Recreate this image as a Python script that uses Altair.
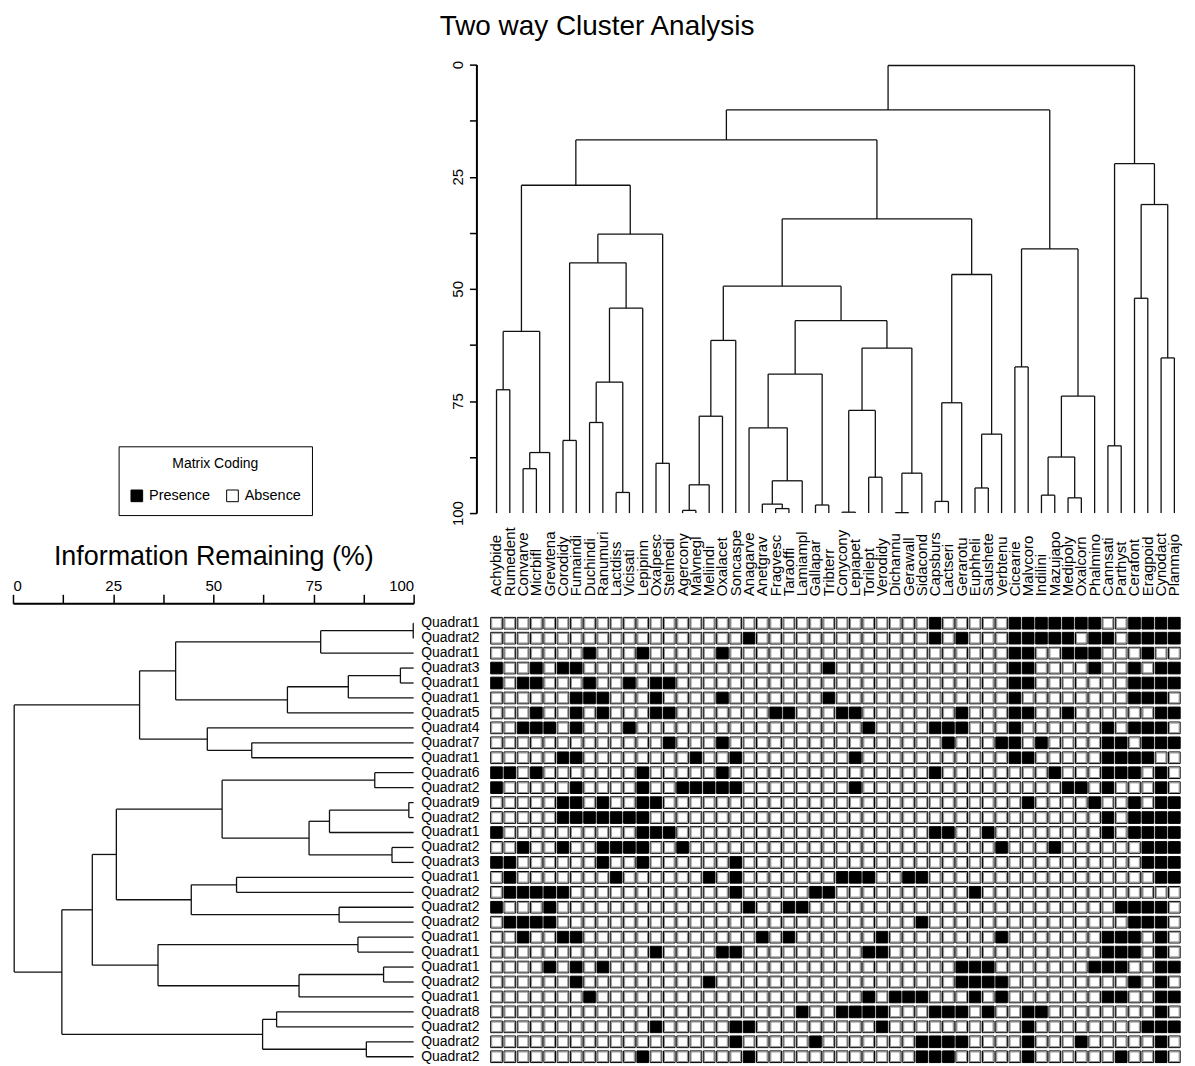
import altair as alt
import pandas as pd

FONT = "Liberation Sans"

species = ["Achybide", "Rumedent", "Convarve", "Micrbifl", "Grewtena", "Corodidy",
           "Fumaindi", "Duchindi", "Ranumuri", "Lactdiss", "Vicisati", "Lepipinn",
           "Oxalpesc", "Stelmedi", "Agercony", "Malvnegl", "Meliindi", "Oxalacet",
           "Soncaspe", "Anagarve", "Anetgrav", "Fragvesc", "Taraoffi", "Lamiampl",
           "Gallapar", "Tribterr", "Conycony", "Lepiapet", "Torilept", "Verodidy",
           "Dichannu", "Gerawall", "Sidacond", "Capsburs", "Lactseri", "Gerarotu",
           "Euphheli", "Saushete", "Verbtenu", "Cicearie", "Malvcoro", "Indilini",
           "Mazujapo", "Medipoly", "Oxalcorn", "Phalmino", "Cannsati", "Parthyst",
           "Cerafont", "Eragpoid", "Cynodact", "Planmajo"]

quadrats = ["Quadrat1", "Quadrat2", "Quadrat1", "Quadrat3", "Quadrat1", "Quadrat1",
            "Quadrat5", "Quadrat4", "Quadrat7", "Quadrat1", "Quadrat6", "Quadrat2",
            "Quadrat9", "Quadrat2", "Quadrat1", "Quadrat2", "Quadrat3", "Quadrat1",
            "Quadrat2", "Quadrat2", "Quadrat2", "Quadrat1", "Quadrat1", "Quadrat1",
            "Quadrat2", "Quadrat1", "Quadrat8", "Quadrat2", "Quadrat2", "Quadrat2"]

# species (column indices) present in each quadrat row
presence = [
    [33, 39, 40, 41, 42, 43, 44, 45, 48, 49, 50, 51],
    [19, 33, 35, 39, 40, 41, 42, 43, 45, 46, 48, 49, 50, 51],
    [7, 11, 17, 39, 40, 43, 44, 45, 49],
    [0, 3, 5, 6, 25, 39, 40, 45, 48, 50, 51],
    [0, 2, 3, 7, 10, 12, 13, 39, 40, 48, 49, 50, 51],
    [6, 7, 8, 12, 17, 25, 39, 48, 49, 50],
    [3, 6, 8, 12, 13, 21, 22, 26, 27, 35, 39, 40, 43, 50, 51],
    [2, 3, 4, 6, 10, 28, 33, 34, 35, 39, 46, 48, 49, 50],
    [13, 17, 34, 38, 39, 41, 46, 47, 49, 50, 51],
    [5, 6, 15, 18, 27, 39, 40, 46, 47, 48, 49],
    [0, 1, 3, 11, 17, 33, 42, 46, 47, 48, 50],
    [0, 6, 11, 14, 15, 16, 17, 18, 27, 43, 44, 46, 50],
    [5, 6, 8, 11, 12, 40, 45, 48, 50, 51],
    [5, 6, 7, 8, 9, 10, 11, 46, 48, 49, 50, 51],
    [0, 11, 12, 13, 33, 34, 37, 46, 48, 49, 50, 51],
    [2, 5, 8, 9, 10, 11, 14, 38, 42, 49, 50, 51],
    [0, 1, 8, 11, 18, 49, 50, 51],
    [1, 9, 16, 18, 26, 27, 28, 31, 32, 50, 51],
    [1, 2, 3, 4, 5, 18, 24, 25, 36],
    [0, 4, 19, 22, 23, 47, 48, 49, 50],
    [1, 2, 3, 4, 32, 48, 49, 50],
    [2, 5, 6, 20, 22, 29, 38, 46, 47, 48, 50],
    [12, 17, 18, 28, 29, 46, 47, 48, 50],
    [4, 6, 8, 35, 36, 37, 45, 46, 47, 50, 51],
    [6, 16, 35, 36, 37, 38, 48, 50],
    [7, 28, 30, 31, 32, 36, 38, 46, 47, 50, 51],
    [23, 26, 27, 28, 29, 33, 34, 35, 37, 40, 41, 50],
    [12, 18, 19, 29, 40, 49, 50, 51],
    [18, 24, 32, 33, 34, 35, 40, 44, 50],
    [11, 19, 32, 33, 34, 40, 47, 50],
]

# merges: (first leaf, last leaf of left group, last leaf of right group, information remaining %)
species_merges = [
    (0, 0, 1, 72.5), (2, 2, 3, 90.1), (2, 3, 4, 86.5), (0, 1, 4, 59.5),
    (5, 5, 6, 83.8), (7, 7, 8, 79.8), (9, 9, 10, 95.4), (7, 8, 10, 70.8),
    (7, 10, 11, 54.3), (5, 6, 11, 44.2), (12, 12, 13, 88.9), (5, 11, 13, 37.8),
    (0, 4, 13, 26.9), (14, 14, 15, 99.4), (14, 15, 16, 93.7), (14, 16, 17, 78.4),
    (14, 17, 18, 61.5), (21, 21, 22, 99.0), (20, 20, 22, 98.0), (20, 22, 23, 92.8),
    (19, 19, 23, 81.0), (24, 24, 25, 98.2), (19, 23, 25, 69.0), (26, 26, 27, 99.8),
    (28, 28, 29, 92.0), (26, 27, 29, 77.1), (30, 30, 31, 99.9), (30, 31, 32, 91.1),
    (26, 29, 32, 63.2), (19, 25, 32, 57.1), (14, 18, 32, 49.4), (33, 33, 34, 97.4),
    (33, 34, 35, 75.4), (36, 36, 37, 94.4), (36, 37, 38, 82.4), (33, 35, 38, 46.8),
    (14, 32, 38, 34.4), (0, 13, 38, 16.8), (39, 39, 40, 67.4), (41, 41, 42, 96.0),
    (43, 43, 44, 96.6), (41, 42, 44, 87.5), (41, 44, 45, 73.9), (39, 40, 45, 41.1),
    (0, 38, 45, 10.1), (46, 46, 47, 85.0), (48, 48, 49, 52.1), (50, 50, 51, 65.4),
    (48, 49, 51, 31.2), (46, 47, 51, 22.1), (0, 45, 51, 0.2),
]

quadrat_merges = [
    (0, 0, 1, 99.9), (0, 1, 2, 76.8), (3, 3, 4, 96.7), (3, 4, 5, 83.7),
    (3, 5, 6, 68.5), (0, 2, 6, 40.6), (8, 8, 9, 59.6), (7, 7, 9, 48.5),
    (0, 6, 9, 31.6), (10, 10, 11, 90.3), (12, 12, 13, 98.8), (12, 13, 14, 79.0),
    (15, 15, 16, 94.6), (12, 14, 16, 73.9), (10, 11, 16, 52.2), (17, 17, 18, 55.8),
    (19, 19, 20, 81.4), (17, 18, 20, 44.5), (10, 16, 20, 25.8), (21, 21, 22, 86.1),
    (23, 23, 24, 92.5), (23, 24, 25, 71.4), (21, 22, 25, 36.2), (10, 20, 25, 19.8),
    (26, 26, 27, 65.8), (28, 28, 29, 88.2), (26, 27, 29, 62.3), (10, 25, 29, 12.2),
    (0, 9, 29, 0.3),
]

distance_ticks = [0, 12.5, 25, 37.5, 50, 62.5, 75, 87.5, 100]
coding = ["Presence", "Absence"]


def dendro_segments(merges):
    nodes = {}
    rows = []

    def locate(lo, hi):
        if lo == hi:
            return float(lo), 100.0
        return nodes[(lo, hi)]

    for a, m, b, h in merges:
        pl, dl = locate(a, m)
        pr, dr = locate(m + 1, b)
        rows.append({"p": pl, "p2": pl, "d": dl, "d2": h})
        rows.append({"p": pr, "p2": pr, "d": dr, "d2": h})
        rows.append({"p": pl, "p2": pr, "d": h, "d2": h})
        nodes[(a, b)] = ((pl + pr) / 2.0, h)
    return pd.DataFrame(rows)


top_seg = dendro_segments(species_merges)
left_seg = dendro_segments(quadrat_merges)

matrix_df = pd.DataFrame([
    {"row": r, "col": c, "state": coding[0] if c in presence[r] else coding[1]}
    for r in range(len(quadrats)) for c in range(len(species))
])

species_expr = "[" + ",".join("'%s'" % s for s in species) + "][datum.value]"
quadrat_expr = "[" + ",".join("'%s'" % q for q in quadrats) + "][datum.value]"
tick_expr = "datum.value % 25 == 0 ? datum.label : ''"

W0, W1 = 402, 693.5
H0, H1 = 450, 450
LINE = "#111111"

# top-left placeholder cell
blank = alt.Chart(pd.DataFrame({"t": [""]})).mark_text().encode(
    text="t:N"
).properties(width=W0, height=H0)

# species dendrogram
top = alt.Chart(top_seg).mark_rule(color=LINE, strokeWidth=1.3).encode(
    x=alt.X("p:Q", scale=alt.Scale(domain=[-0.5, len(species) - 0.5], nice=False, zero=False),
            axis=None),
    x2="p2:Q",
    y=alt.Y("d:Q", scale=alt.Scale(domain=[0, 100], reverse=True, nice=False, zero=False),
            axis=alt.Axis(orient="left", offset=13.5, values=distance_ticks, labelExpr=tick_expr,
                          labelAngle=270, labelAlign="center", labelBaseline="bottom",
                          labelPadding=4, labelFontSize=15, tickSize=7, tickWidth=1.5,
                          domainWidth=2, grid=False, title=None)),
    y2="d2:Q",
).properties(width=W1, height=H0)

# quadrat dendrogram
left = alt.Chart(left_seg).mark_rule(color=LINE, strokeWidth=1.3).encode(
    x=alt.X("d:Q", scale=alt.Scale(domain=[0, 100], nice=False, zero=False),
            axis=alt.Axis(orient="top", offset=12.5, values=distance_ticks, labelExpr=tick_expr,
                          labelFontSize=15, labelPadding=1, tickSize=9, tickWidth=1.5,
                          domainWidth=2, grid=False, title="Information Remaining (%)",
                          titleFontSize=27, titleFontWeight="normal", titlePadding=8)),
    x2="d2:Q",
    y=alt.Y("p:Q", scale=alt.Scale(domain=[-0.5, len(quadrats) - 0.5], reverse=True,
                                   nice=False, zero=False), axis=None),
    y2="p2:Q",
).properties(width=W0, height=H1)

# matrix
x_enc = alt.X("col:O", scale=alt.Scale(domain=list(range(len(species))), paddingInner=0.125,
                                       paddingOuter=0.0625),
              axis=alt.Axis(orient="top", labelAngle=270, labelAlign="left", labelBaseline="middle",
                            labelPadding=20, labelFontSize=15, ticks=False, domain=False,
                            labelExpr=species_expr, labelOverlap=False, title=None))
y_enc = alt.Y("row:O", scale=alt.Scale(domain=list(range(len(quadrats))), paddingInner=0.22,
                                       paddingOuter=0.11),
              axis=alt.Axis(orient="left", labelFontSize=14, labelPadding=11, ticks=False,
                            domain=False, labelExpr=quadrat_expr, labelOverlap=False, title=None))

base = alt.Chart(matrix_df)
cells = base.mark_rect(stroke="black", strokeWidth=1).encode(
    x=x_enc, y=y_enc,
    fill=alt.Fill("state:N", scale=alt.Scale(domain=coding, range=["black", "white"]),
                  legend=alt.Legend(title="Matrix Coding", orient="none", legendX=106,
                                    legendY=383, direction="horizontal", symbolType="square",
                                    symbolSize=137, symbolStrokeColor="black",
                                    symbolStrokeWidth=1, labelFontSize=14.5, labelOffset=5,
                                    columnPadding=14, titleFontSize=14, titleFontWeight="normal",
                                    titleAnchor="middle", titlePadding=17, padding=11,
                                    strokeColor="black", titleColor="black",
                                    labelColor="black")),
)
inner = base.transform_filter("datum.state == 'Absence'").mark_square(
    size=93, filled=False, stroke="#8c8c8c", strokeWidth=1, opacity=1
).encode(x=x_enc, y=y_enc)
matrix = alt.layer(cells, inner).properties(width=W1, height=H1)

chart = alt.concat(
    blank, top, left, matrix,
    columns=2, spacing={"row": 103, "column": 76.5}, bounds="flush", align="each",
    title=alt.TitleParams(text="Two way Cluster Analysis", fontSize=28, fontWeight="normal",
                          anchor="middle", offset=20, color="black", font=FONT),
).resolve_scale(color="independent").resolve_legend(color="independent").properties(
    padding={"left": 4, "top": 2, "right": 5, "bottom": 2}
).configure(font=FONT).configure_view(strokeOpacity=0).configure_axis(
    labelColor="black", domainColor="black", tickColor="black", titleColor="black",
    labelFont=FONT, titleFont=FONT
)

chart.save("out.html", embed_options={"renderer": "svg", "actions": False})
